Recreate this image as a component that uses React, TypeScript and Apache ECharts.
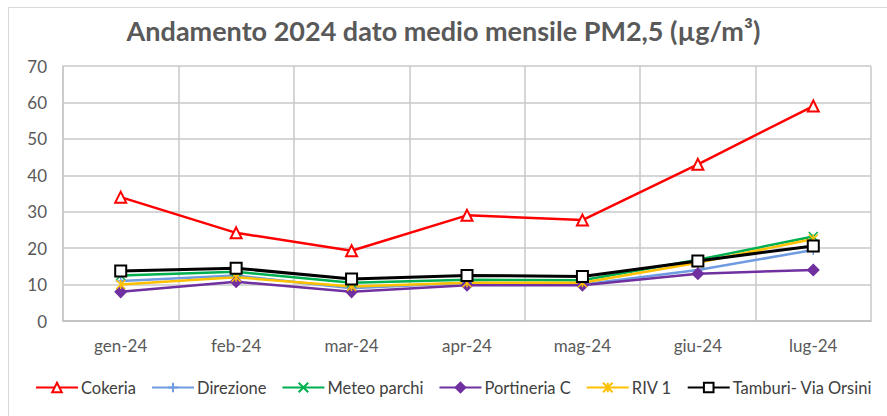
import React, { useEffect, useRef } from "react";
import * as echarts from "echarts";

const categories = ["gen-24", "feb-24", "mar-24", "apr-24", "mag-24", "giu-24", "lug-24"];
const cokeria = [34.0, 24.2, 19.3, 29.0, 27.7, 43.0, 59.0];
const direzione = [11.0, 12.5, 9.0, 10.5, 10.0, 14.0, 19.5];
const meteoParchi = [12.5, 13.5, 10.5, 11.3, 11.2, 16.8, 23.2];
const portineriaC = [8.0, 10.8, 8.0, 9.8, 9.8, 13.0, 14.0];
const riv1 = [10.0, 12.0, 9.5, 10.5, 10.5, 16.0, 22.5];
const tamburi = [13.7, 14.5, 11.5, 12.5, 12.2, 16.5, 20.6];
const yTicks = [0, 10, 20, 30, 40, 50, 60, 70];

const PLUS = "path://M5,0 L5,10 M0,5 L10,5";
const CROSS = "path://M0,0 L10,10 M10,0 L0,10";
const STAR = "path://M0,0 L10,10 M10,0 L0,10 M5,0 L5,10";

export default function App() {
  const ref = useRef<HTMLDivElement>(null);
  useEffect(() => {
    if (!ref.current) return;
    const chart = echarts.init(ref.current, null, { renderer: "svg" });
    const font = "Lato";
    const mk = (name: string, data: number[], color: string, symbol: string, size: number, extra: any = {}) => ({
      name,
      type: "line",
      data,
      symbol,
      symbolSize: size,
      lineStyle: { color, width: 2.5 },
      itemStyle: { color, borderColor: color, borderWidth: 1.5 },
      ...extra,
    });
    chart.setOption({
      animation: false,
      backgroundColor: "#ffffff",
      title: {
        text: "Andamento 2024 dato medio mensile PM2,5 (µg/m³)",
        left: "center",
        top: 12,
        textStyle: { fontFamily: font, fontSize: 27, fontWeight: "bold", color: "#595959" },
      },
      grid: { left: 63, right: 16, top: 66, bottom: 95 },
      xAxis: {
        type: "category",
        data: categories,
        boundaryGap: true,
        axisLine: { show: true, lineStyle: { color: "#bfbfbf", width: 1.5 } },
        axisTick: { show: false },
        splitLine: { show: true, interval: 0, lineStyle: { color: "#c8c8c8", width: 1.5 } },
        axisLabel: { color: "#595959", fontFamily: font, fontSize: 17, margin: 16 },
      },
      yAxis: {
        type: "value",
        min: yTicks[0],
        max: yTicks[yTicks.length - 1],
        interval: 10,
        axisLine: { show: true, lineStyle: { color: "#c8c8c8", width: 1.5 } },
        axisTick: { show: false },
        splitLine: { show: true, lineStyle: { color: "#c8c8c8", width: 1.5 } },
        axisLabel: { color: "#595959", fontFamily: font, fontSize: 17, margin: 16 },
      },
      legend: {
        top: 374,
        left: 30,
        width: 900,
        itemWidth: 42,
        itemHeight: 12,
        itemGap: 15,
        textStyle: { color: "#404040", fontFamily: font, fontSize: 16.5, padding: [0, 0, 0, -2] },
      },
      series: [
        mk("Cokeria", cokeria, "#ff0000", "emptyTriangle", 11),
        mk("Direzione", direzione, "#6f9be0", PLUS, 10),
        mk("Meteo parchi", meteoParchi, "#00b050", CROSS, 9),
        mk("Portineria C", portineriaC, "#7030a0", "diamond", 11),
        mk("RIV 1", riv1, "#ffc000", STAR, 9),
        mk("Tamburi- Via Orsini", tamburi, "#000000", "emptyRect", 11, { lineStyle: { color: "#000", width: 3 } }),
      ],
    });
    return () => chart.dispose();
  }, []);
  return (
    <div style={{ position: "fixed", left: 0, top: 0, width: 887, height: 416 }}>
      <div ref={ref} style={{ position: "absolute", left: 0, top: 0, width: 887, height: 416 }} />
      <div
        style={{
          position: "absolute",
          left: 8,
          top: 7,
          width: 879,
          height: 409,
          boxSizing: "border-box",
          borderLeft: "1.5px solid #d9d9d9",
          borderTop: "1.5px solid #d9d9d9",
          pointerEvents: "none",
        }}
      />
    </div>
  );
}
